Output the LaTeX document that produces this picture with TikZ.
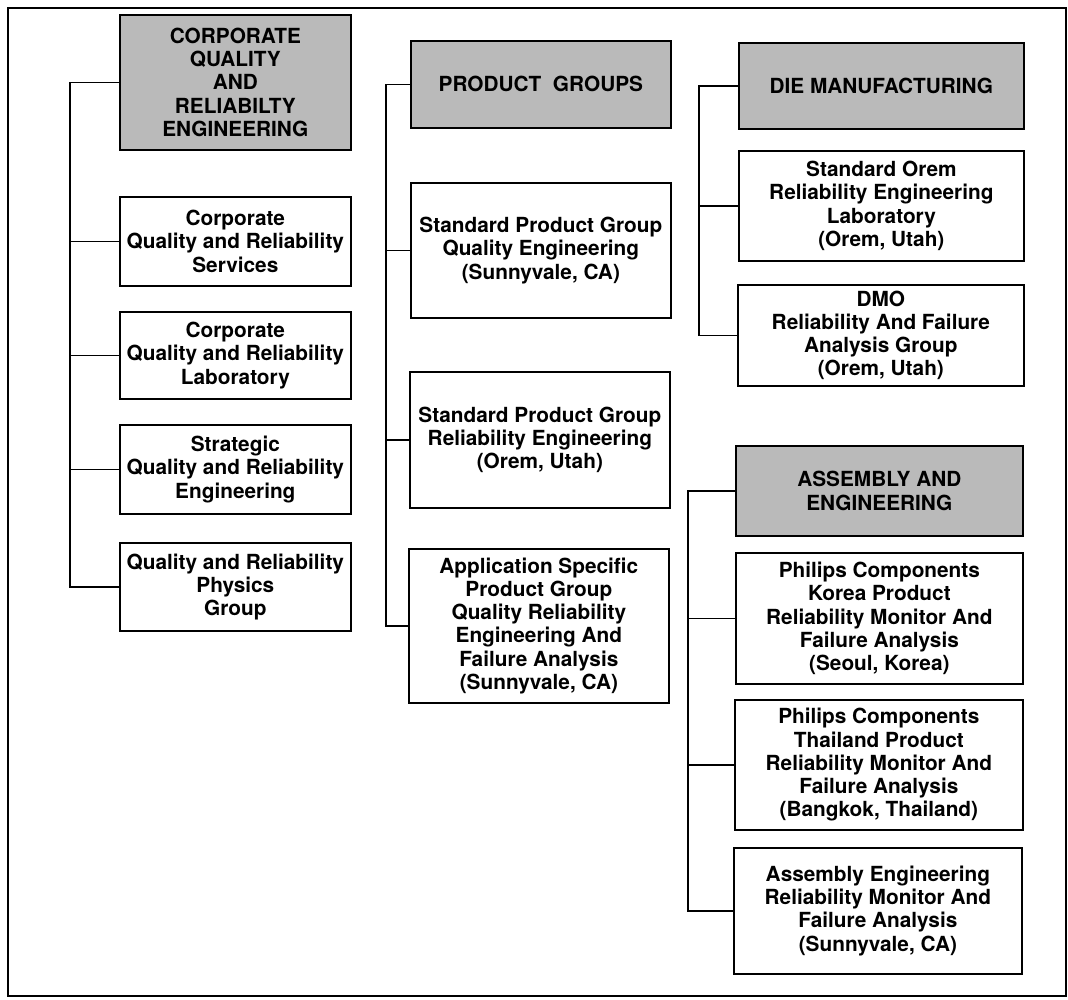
\documentclass[tikz,border=0pt]{standalone}
\usepackage{fontspec}
\setmainfont{TeX Gyre Heros}
\begin{document}
\begin{tikzpicture}[x=1pt,y=-1pt,
  unit/.style={draw, line width=1.7pt, inner sep=0pt, align=center, anchor=north west,
    font=\fontsize{20.8}{23.3}\selectfont\bfseries},
  head/.style={unit, fill=black!27},
  link/.style={line width=1.7pt}]
\useasboundingbox (0,0) rectangle (1068,999);
\draw[line width=2pt] (8,8) rectangle (1066,996);

% column 1
\node[head, minimum width=231pt, minimum height=135pt] (cq) at (119,14) {CORPORATE\\QUALITY\\AND\\RELIABILTY\\ENGINEERING};
\node[unit, minimum width=231pt, minimum height=89pt] (cs) at (119,196) {Corporate\\Quality and Reliability\\Services};
\node[unit, minimum width=231pt, minimum height=87pt] (cl) at (119,311) {Corporate\\Quality and Reliability\\Laboratory};
\node[unit, minimum width=231pt, minimum height=89pt] (ct) at (119,424) {Strategic\\Quality and Reliability\\Engineering};
\node[unit, minimum width=231pt, minimum height=88pt] (cp) at (119,542) {Quality and Reliability\\Physics\\Group};
\coordinate (b1) at (70,0);
\draw[link] (cq.west) -- (cq.west -| b1) -- (cp.west -| b1) -- (cp.west);
\draw[link] (cs.west) -- (cs.west -| b1);
\draw[link] (cl.west) -- (cl.west -| b1);
\draw[link] (ct.west) -- (ct.west -| b1);

% column 2
\node[head, minimum width=260pt, minimum height=87pt] (pg) at (410,40) {PRODUCT\ \ GROUPS};
\node[unit, minimum width=260pt, minimum height=135pt] (qe) at (410,182) {Standard Product Group\\Quality Engineering\\(Sunnyvale, CA)};
\node[unit, minimum width=260pt, minimum height=136pt] (re) at (409,371) {Standard Product Group\\Reliability Engineering\\(Orem, Utah)};
\node[unit, minimum width=260pt, minimum height=154pt] (as) at (408,548) {Application Specific\\Product Group\\Quality Reliability\\Engineering And\\Failure Analysis\\(Sunnyvale, CA)};
\coordinate (b2) at (386,0);
\draw[link] (pg.west) -- (pg.west -| b2) -- (as.west -| b2) -- (as.west);
\draw[link] (qe.west) -- (qe.west -| b2);
\draw[link] (re.west) -- (re.west -| b2);

% column 3 upper
\node[head, minimum width=285pt, minimum height=86pt] (die) at (738,42) {DIE MANUFACTURING};
\node[unit, minimum width=285pt, minimum height=110pt] (orem) at (738,150) {Standard Orem\\Reliability Engineering\\Laboratory\\(Orem, Utah)};
\node[unit, minimum width=286pt, minimum height=101pt] (dmo) at (737,284) {DMO\\Reliability And Failure\\Analysis Group\\(Orem, Utah)};
\coordinate (b3) at (699,0);
\draw[link] (die.west) -- (die.west -| b3) -- (dmo.west -| b3) -- (dmo.west);
\draw[link] (orem.west) -- (orem.west -| b3);

% column 3 lower
\node[head, minimum width=287pt, minimum height=90pt] (ae) at (735,445) {ASSEMBLY AND\\ENGINEERING};
\node[unit, minimum width=287pt, minimum height=131pt] (kor) at (735,552) {Philips Components\\Korea Product\\Reliability Monitor And\\Failure Analysis\\(Seoul, Korea)};
\node[unit, minimum width=288pt, minimum height=130pt] (tha) at (734,699) {Philips Components\\Thailand Product\\Reliability Monitor And\\Failure Analysis\\(Bangkok, Thailand)};
\node[unit, minimum width=288pt, minimum height=126pt] (aen) at (733,847) {Assembly Engineering\\Reliability Monitor And\\Failure Analysis\\(Sunnyvale, CA)};
\coordinate (b4) at (688,0);
\draw[link] (ae.west) -- (ae.west -| b4) -- (aen.west -| b4) -- (aen.west);
\draw[link] (kor.west) -- (kor.west -| b4);
\draw[link] (tha.west) -- (tha.west -| b4);
\end{tikzpicture}
\end{document}
